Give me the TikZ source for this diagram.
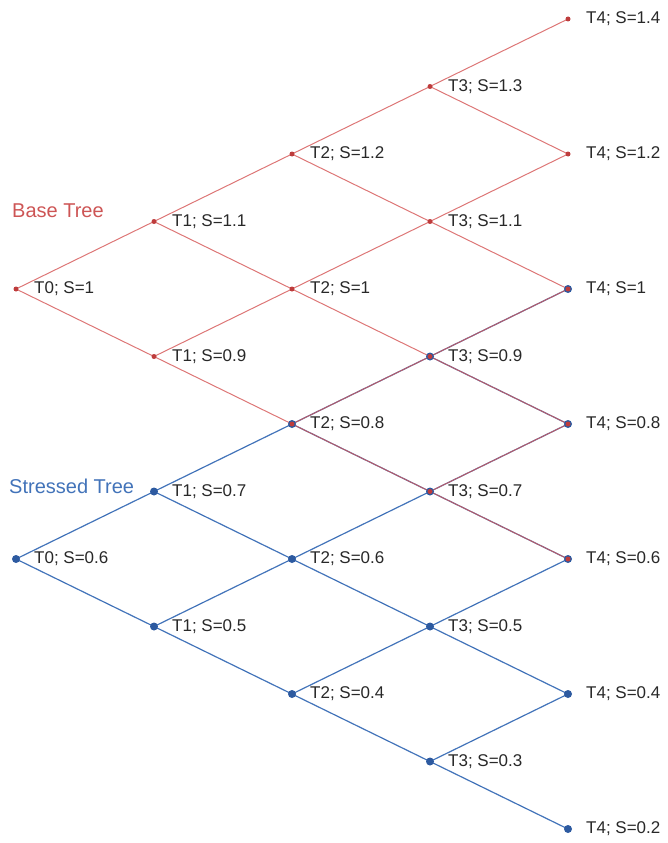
\documentclass[tikz,border=0pt]{standalone}
\usepackage{fontspec}
\setmainfont{Liberation Sans}
\definecolor{basered}{RGB}{212,84,84}
\definecolor{basedot}{RGB}{190,60,60}
\definecolor{basetxt}{RGB}{205,85,85}
\definecolor{strblue}{RGB}{66,115,185}
\definecolor{strdot}{RGB}{45,90,160}
\definecolor{labtxt}{RGB}{40,40,40}
\newcommand\svalfmt[1]{\ifnum#1=10 1\else\ifnum#1>10 1.\the\numexpr#1-10\relax\else 0.#1\fi\fi}
\begin{document}
\begin{tikzpicture}[x=1pt,y=-1pt,
  bedge/.style={basered, line width=1pt, opacity=0.8},
  sedge/.style={strblue, line width=1.2pt},
  bdot/.style={circle, fill=basedot, inner sep=0pt, minimum size=5pt},
  sdot/.style={circle, fill=strdot, inner sep=0pt, minimum size=8pt},
  lab/.style={anchor=west, inner sep=0pt, font=\fontsize{17}{20}\selectfont, text=labtxt},
  treetitle/.style={anchor=west, inner sep=0pt, font=\fontsize{20}{24}\selectfont}]
\useasboundingbox (0,0) rectangle (668,843);
% positions
\foreach \t in {0,...,4}{
  \foreach \j in {0,...,\t}{
    \pgfmathtruncatemacro\vb{10+2*\j-\t}
    \pgfmathtruncatemacro\vs{6+2*\j-\t}
    \coordinate (b\t\j) at ({16+138*\t},{19+67.5*(14-\vb)});
    \coordinate (s\t\j) at ({16+138*\t},{19+67.5*(14-\vs)});
  }}
% stressed edges
\foreach \t in {0,...,3}{
  \pgfmathtruncatemacro\tn{\t+1}
  \foreach \j in {0,...,\t}{
    \pgfmathtruncatemacro\jn{\j+1}
    \draw[sedge] (s\t\j) -- (s\tn\j);
    \draw[sedge] (s\t\j) -- (s\tn\jn);
  }}
% base edges
\foreach \t in {0,...,3}{
  \pgfmathtruncatemacro\tn{\t+1}
  \foreach \j in {0,...,\t}{
    \pgfmathtruncatemacro\jn{\j+1}
    \draw[bedge] (b\t\j) -- (b\tn\j);
    \draw[bedge] (b\t\j) -- (b\tn\jn);
  }}
% dots and labels
\foreach \t in {0,...,4}{
  \foreach \j in {0,...,\t}{
    \pgfmathtruncatemacro\vs{6+2*\j-\t}
    \node[sdot] (sd\t\j) at (s\t\j) {};
    \ifnum\j<2
      \node[lab] (sl\t\j) at ([xshift=18pt]s\t\j) {T\t; S=\svalfmt{\vs}};
    \fi
  }}
\foreach \t in {0,...,4}{
  \foreach \j in {0,...,\t}{
    \pgfmathtruncatemacro\vb{10+2*\j-\t}
    \node[bdot] (bd\t\j) at (b\t\j) {};
    \node[lab] (bl\t\j) at ([xshift=18pt]b\t\j) {T\t; S=\svalfmt{\vb}};
  }}
\node[treetitle, text=basetxt] (basetitle) at (12,211) {Base Tree};
\node[treetitle, text=strblue] (stresstitle) at (9,486) {Stressed Tree};
\end{tikzpicture}
\end{document}
